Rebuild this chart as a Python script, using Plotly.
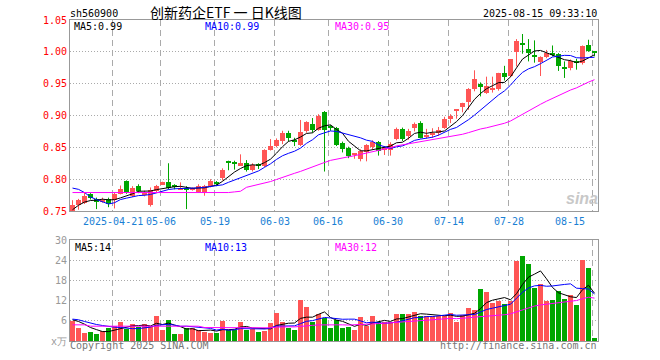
import plotly.graph_objects as go
import pandas as pd

# ---------------- data ----------------
dates = [
    "2025-04-10", "2025-04-11", "2025-04-14", "2025-04-15", "2025-04-16", "2025-04-17", "2025-04-18",
    "2025-04-21", "2025-04-22", "2025-04-23", "2025-04-24", "2025-04-25", "2025-04-28", "2025-04-29",
    "2025-04-30", "2025-05-06", "2025-05-07", "2025-05-08", "2025-05-09", "2025-05-12", "2025-05-13",
    "2025-05-14", "2025-05-15", "2025-05-16", "2025-05-19", "2025-05-20", "2025-05-21", "2025-05-22",
    "2025-05-23", "2025-05-26", "2025-05-27", "2025-05-28", "2025-05-29", "2025-05-30", "2025-06-03",
    "2025-06-04", "2025-06-05", "2025-06-06", "2025-06-09", "2025-06-10", "2025-06-11", "2025-06-12",
    "2025-06-13", "2025-06-16", "2025-06-17", "2025-06-18", "2025-06-19", "2025-06-20", "2025-06-23",
    "2025-06-24", "2025-06-25", "2025-06-26", "2025-06-27", "2025-06-30", "2025-07-01", "2025-07-02",
    "2025-07-03", "2025-07-04", "2025-07-07", "2025-07-08", "2025-07-09", "2025-07-10", "2025-07-11",
    "2025-07-14", "2025-07-15", "2025-07-16", "2025-07-17", "2025-07-18", "2025-07-21", "2025-07-22",
    "2025-07-23", "2025-07-24", "2025-07-25", "2025-07-28", "2025-07-29", "2025-07-30", "2025-07-31",
    "2025-08-01", "2025-08-04", "2025-08-05", "2025-08-06", "2025-08-07", "2025-08-08", "2025-08-11",
    "2025-08-12", "2025-08-13", "2025-08-14", "2025-08-15",
]

opens = [0.750, 0.759, 0.762, 0.776, 0.769, 0.765, 0.769, 0.768, 0.777, 0.797,
         0.773, 0.789, 0.775, 0.759, 0.782, 0.792, 0.795, 0.7885, 0.784, 0.786,
         0.783, 0.780, 0.778, 0.790, 0.794, 0.802, 0.8266, 0.8256, 0.822, 0.825,
         0.815, 0.8226, 0.820, 0.846, 0.852, 0.860, 0.872, 0.862, 0.853, 0.876,
         0.886, 0.877, 0.905, 0.8825, 0.880, 0.857, 0.849, 0.838, 0.832, 0.843,
         0.850, 0.858, 0.847, 0.846, 0.863, 0.879, 0.868, 0.880, 0.889, 0.866,
         0.870, 0.872, 0.880, 0.895, 0.908, 0.913, 0.921, 0.942, 0.950, 0.936,
         0.941, 0.941, 0.967, 0.962, 1.000, 1.013, 1.004, 0.993, 0.984, 0.992,
         0.997, 0.996, 0.975, 0.974, 0.986, 0.982, 1.010, 1.000]
highs = [0.767, 0.769, 0.779, 0.778, 0.771, 0.771, 0.771, 0.779, 0.790, 0.798,
         0.789, 0.792, 0.782, 0.787, 0.791, 0.796, 0.825, 0.792, 0.795, 0.789,
         0.787, 0.792, 0.791, 0.800, 0.797, 0.817, 0.829, 0.829, 0.839, 0.830,
         0.825, 0.825, 0.847, 0.863, 0.864, 0.876, 0.876, 0.865, 0.893, 0.891,
         0.896, 0.902, 0.907, 0.885, 0.882, 0.859, 0.851, 0.841, 0.847, 0.855,
         0.861, 0.860, 0.852, 0.858, 0.881, 0.881, 0.879, 0.889, 0.891, 0.879,
         0.880, 0.882, 0.898, 0.902, 0.910, 0.920, 0.943, 0.971, 0.952, 0.961,
         0.961, 0.967, 0.978, 0.988, 1.020, 1.028, 1.020, 1.018, 0.993, 1.003,
         1.010, 0.998, 0.985, 0.988, 0.989, 1.010, 1.019, 1.000]
lows = [0.748, 0.752, 0.761, 0.768, 0.753, 0.763, 0.756, 0.754, 0.776, 0.777,
        0.772, 0.778, 0.773, 0.757, 0.779, 0.791, 0.784, 0.784, 0.783, 0.753,
        0.782, 0.779, 0.774, 0.787, 0.789, 0.798, 0.814, 0.815, 0.821, 0.812,
        0.812, 0.816, 0.819, 0.845, 0.850, 0.855, 0.859, 0.852, 0.852, 0.873,
        0.873, 0.876, 0.812, 0.876, 0.852, 0.842, 0.833, 0.832, 0.828, 0.828,
        0.847, 0.837, 0.838, 0.837, 0.861, 0.860, 0.862, 0.875, 0.864, 0.864,
        0.865, 0.868, 0.879, 0.888, 0.895, 0.905, 0.909, 0.938, 0.930, 0.934,
        0.936, 0.939, 0.955, 0.960, 0.977, 0.997, 0.985, 0.983, 0.962, 0.990,
        0.993, 0.970, 0.959, 0.971, 0.972, 0.980, 1.000, 0.993]
closes = [0.760, 0.767, 0.774, 0.770, 0.764, 0.768, 0.761, 0.776, 0.784, 0.778,
          0.786, 0.781, 0.779, 0.783, 0.789, 0.795, 0.786, 0.7878, 0.786, 0.783,
          0.785, 0.789, 0.789, 0.797, 0.793, 0.815, 0.826, 0.825, 0.825, 0.815,
          0.822, 0.822, 0.846, 0.852, 0.862, 0.873, 0.864, 0.858, 0.874, 0.890,
          0.878, 0.900, 0.877, 0.8815, 0.854, 0.848, 0.837, 0.839, 0.845, 0.853,
          0.859, 0.845, 0.848, 0.855, 0.879, 0.863, 0.876, 0.886, 0.865, 0.870,
          0.872, 0.877, 0.895, 0.899, 0.909, 0.919, 0.942, 0.958, 0.945, 0.946,
          0.943, 0.966, 0.960, 0.988, 1.017, 1.012, 0.998, 0.992, 0.992, 0.998,
          0.996, 0.978, 0.974, 0.985, 0.982, 1.009, 1.002, 0.999]
volumes = [5.8, 3.9, 2.4, 2.7, 2.1, 2.9, 3.9, 4.4, 5.7, 3.5,
           5.1, 4.2, 5.1, 4.4, 7.5, 3.3, 6.3, 2.1, 2.1, 3.9,
           3.9, 3.3, 2.7, 2.4, 2.4, 6.0, 3.3, 3.3, 5.7, 3.3,
           3.6, 2.7, 3.0, 5.4, 8.4, 5.7, 3.9, 3.3, 12.3, 10.2,
           5.7, 8.1, 6.9, 4.0, 6.3, 3.9, 4.2, 3.3, 7.2, 4.5,
           7.5, 5.7, 5.7, 5.7, 8.1, 8.1, 8.1, 8.7, 7.5, 7.5,
           7.5, 7.5, 7.5, 8.4, 5.7, 7.8, 9.9, 9.3, 15.3, 14.7,
           11.4, 12.0, 11.1, 12.0, 23.7, 25.2, 22.8, 15.6, 16.8, 12.0,
           12.3, 15.0, 12.6, 13.8, 10.8, 24.0, 21.6, 0.8]

# moving-average values before the window fills
ma5_head = [0.752, 0.759, 0.764, 0.7665]
ma10_head = [0.786, 0.784, 0.779, 0.772, 0.768, 0.764, 0.761, 0.763, 0.768]
ma30_head = [0.779, 0.779, 0.779, 0.778, 0.778, 0.778, 0.778, 0.778, 0.778, 0.778,
             0.778, 0.778, 0.778, 0.778, 0.778, 0.778, 0.778, 0.778, 0.778, 0.778,
             0.778, 0.778, 0.778, 0.778, 0.778, 0.778, 0.779, 0.780, 0.781]
vma5_head = [6.3, 5.8, 5.0, 4.0]
vma10_head = [6.5, 6.3, 5.8, 5.3, 4.9, 4.6, 4.3, 4.1, 4.0]
vma30_head = [4.8, 4.8, 4.8, 4.4, 4.4, 4.4, 4.4, 4.4, 4.4, 4.4,
              4.4, 4.4, 4.4, 4.4, 4.4, 4.4, 4.4, 4.4, 4.4, 4.4,
              4.4, 4.4, 4.0, 4.0, 4.0, 4.0, 4.0, 4.0, 4.0]

tick_dates = ["2025-04-21", "2025-05-06", "2025-05-19", "2025-06-03", "2025-06-16",
              "2025-06-30", "2025-07-14", "2025-07-28", "2025-08-15"]
tick_labels = ["2025-04-21", "05-06", "05-19", "06-03", "06-16", "06-30", "07-14", "07-28", "08-15"]
price_ticks = [0.75, 0.80, 0.85, 0.90, 0.95, 1.00, 1.05]
vol_ticks = [0, 6, 12, 18, 24, 30]
vol_tick_text = ["x万", "6", "12", "18", "24", "30"]

title_code = "sh560900"
title_name = "创新药企ETF 一 日K线图"
timestamp = "2025-08-15 09:33:10"
price_ma_labels = ["MA5:0.99", "MA10:0.99", "MA30:0.95"]
vol_ma_labels = ["MA5:14", "MA10:13", "MA30:12"]

# ---------------- styling ----------------
RED = "#ff5555"
GREEN = "#00a600"
MA_COLORS = ["#000000", "#0000ff", "#ff00ff"]
GRID = "#aaaaaa"
BORDER = "#999999"
MONO = "DejaVu Sans Mono"

W, H = 660, 360
ML, MR, MT, MB = 70, 62, 20, 19
PW, PH = W - ML - MR, H - MT - MB


def py(ypix):
    return (H - MB - ypix) / PH


def px(xpix):
    return (xpix - ML) / PW


def ma(values, n, head):
    s = pd.Series(values).rolling(n).mean().tolist()
    s[:n - 1] = head
    return s


idx = list(range(len(dates)))
up = [c >= o for o, c in zip(opens, closes)]
colors = [RED if u else GREEN for u in up]

fig = go.Figure()

# wicks
for is_up, col in [(True, RED), (False, GREEN)]:
    wx, wy = [], []
    for i in idx:
        if up[i] == is_up:
            wx += [i, i, None]
            wy += [lows[i], highs[i], None]
    fig.add_trace(go.Scatter(x=wx, y=wy, mode="lines", line=dict(color=col, width=1),
                             xaxis="x", yaxis="y", hoverinfo="skip", showlegend=False))

# bodies
fig.add_trace(go.Bar(
    x=idx,
    base=[min(o, c) for o, c in zip(opens, closes)],
    y=[max(abs(c - o), 0.0016) for o, c in zip(opens, closes)],
    width=5 / 6, marker=dict(color=colors, line=dict(width=0)),
    xaxis="x", yaxis="y", showlegend=False))

# price moving averages
for vals, col in zip([ma(closes, 5, ma5_head), ma(closes, 10, ma10_head), ma(closes, 30, ma30_head)],
                     MA_COLORS):
    fig.add_trace(go.Scatter(x=idx, y=vals, mode="lines", line=dict(color=col, width=1),
                             xaxis="x", yaxis="y", showlegend=False))

# volume
fig.add_trace(go.Bar(x=idx, y=volumes, width=5 / 6, marker=dict(color=colors, line=dict(width=0)),
                     xaxis="x2", yaxis="y2", showlegend=False))
for vals, col in zip([ma(volumes, 5, vma5_head), ma(volumes, 10, vma10_head), ma(volumes, 30, vma30_head)],
                     MA_COLORS):
    fig.add_trace(go.Scatter(x=idx, y=vals, mode="lines", line=dict(color=col, width=1),
                             xaxis="x2", yaxis="y2", showlegend=False))

tick_idx = [dates.index(d) for d in tick_dates]
grid_x = [i - 1 / 3 for i in tick_idx]
xrange = [-5 / 12, len(dates) - 5 / 12]

xcommon = dict(range=xrange, tickvals=grid_x, showticklabels=False, ticks="",
               showgrid=True, gridcolor=GRID, gridwidth=1, griddash="6px,4px",
               showline=True, mirror=True, linecolor=BORDER, linewidth=1, zeroline=False)
fig.update_layout(
    width=W, height=H,
    margin=dict(l=ML, r=MR, t=MT, b=MB, pad=0),
    paper_bgcolor="white", plot_bgcolor="white",
    bargap=0,
    xaxis=dict(domain=[0, 1], anchor="y", **xcommon),
    xaxis2=dict(domain=[0, 1], anchor="y2", matches="x", **xcommon),
    yaxis=dict(domain=[py(211), 1], range=[0.75, 1.05], tickvals=price_ticks,
               ticktext=[f"{v:.2f}" for v in price_ticks], ticks="",
               tickfont=dict(family=MONO, size=10, color="#ff0000"),
               showgrid=True, gridcolor=GRID, griddash="1px,2px", gridwidth=1,
               showline=True, mirror=True, linecolor=BORDER, zeroline=False),
    yaxis2=dict(domain=[0, py(240)], range=[0, 30], tickvals=vol_ticks, ticktext=vol_tick_text,
                ticks="", tickfont=dict(family=MONO, size=10, color="#999999"),
                showgrid=True, gridcolor=GRID, griddash="1px,2px", gridwidth=1,
                showline=True, mirror=True, linecolor=BORDER, zeroline=False),
    font=dict(family=MONO),
)

ann = []


def text(x, y, s, color="#000000", size=10, anchor="left", family=MONO, **kw):
    ann.append(dict(x=px(x), y=py(y), xref="paper", yref="paper", text=s, showarrow=False,
                    xanchor=anchor, yanchor="middle",
                    font=dict(family=family, size=size, color=color), **kw))


text(68, 13, title_code, size=10)
text(148, 12, title_name, size=14, family="Noto Sans CJK SC")
text(599, 13, timestamp, size=10, anchor="right")
for s, x0, col in zip(price_ma_labels, [72, 203, 333], MA_COLORS):
    text(x0, 26, s, color=col, size=10)
for s, x0, col in zip(vol_ma_labels, [73, 203, 333], MA_COLORS):
    text(x0, 247, s, color=col, size=10)
text(68, 346, "Copyright 2025 SINA.COM", color="#777777", size=10)
text(599, 346, "http://finance.sina.com.cn", color="#777777", size=10, anchor="right")

# date labels under the price panel
for i, lab in zip(tick_idx, tick_labels):
    xp = ML + (i - 1 / 3 - xrange[0]) * PW / (xrange[1] - xrange[0])
    if i == len(dates) - 1:
        text(xp - 6, 221, lab, color="#1a7fd4", size=10, anchor="right")
    else:
        text(xp, 221, lab, color="#1a7fd4", size=10, anchor="center")

# watermark
text(582, 199, "<b><i>sina</i></b>", color="#c8c8c8", size=16, anchor="center",
     family="Liberation Sans")

fig.update_layout(annotations=ann)
fig.write_html("out.html", config={"displayModeBar": False},
               post_script="document.body.style.margin='0px';")
